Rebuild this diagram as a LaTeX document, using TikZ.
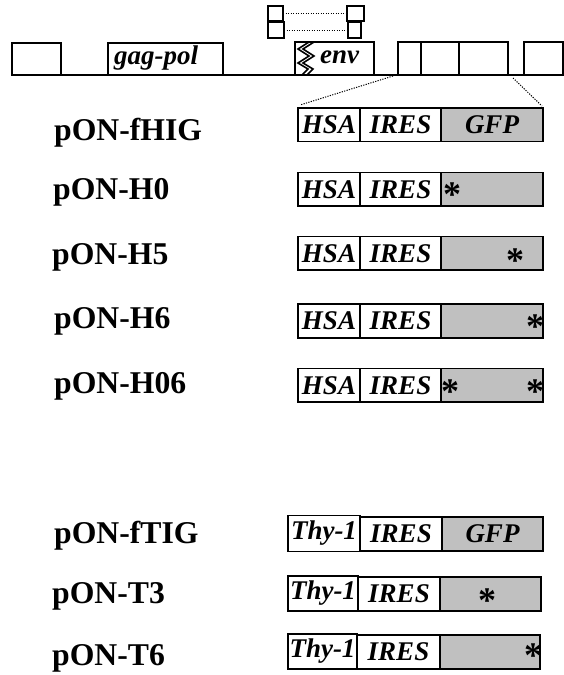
\documentclass[tikz,border=0pt]{standalone}
\usepackage{fontspec}
\setmainfont{Liberation Serif}
\definecolor{boxgray}{RGB}{192,192,192}
\newcommand\lblfont{\fontsize{31.7}{36}\selectfont\bfseries}
\newcommand\segfont{\fontsize{27}{30}\selectfont\bfseries\itshape}
\newcommand\starfont{\fontsize{36}{36}\selectfont\bfseries}
\begin{document}
\begin{tikzpicture}[x=1pt,y=-1pt,
  seg/.style={draw=black, line width=1.9pt, inner sep=0pt, outer sep=0pt, anchor=north west, font=\segfont},
  gseg/.style={seg, fill=boxgray},
  lbl/.style={anchor=base west, inner sep=0pt, font=\lblfont},
  starmark/.style={anchor=base, inner sep=0pt, font=\starfont},
  zoomline/.style={line width=1pt, dash pattern=on 1.2pt off 1.3pt},
  mainline/.style={line width=1.9pt}]
\useasboundingbox (0,0) rectangle (564,675);

% ---------- top construct ----------
\coordinate (ls) at (61,75);
\coordinate (le) at (524,75);
\draw[mainline] (ls) -- (le);
\node[seg, minimum width=49pt, minimum height=32pt] (b1) at (12,43) {};
\node[seg, minimum width=115pt, minimum height=32pt] (gp) at (108,43) {};
\node[anchor=west, inner sep=0pt, font=\segfont] (gpt) at (114,58) {gag-pol};
\node[seg, minimum width=79pt, minimum height=33pt] (env) at (295,42) {};
\node[anchor=west, inner sep=0pt, font=\segfont] (envt) at (320,57) {env};
\draw[line width=1.6pt, line join=miter] (309,42) -- (298,49) -- (309,56) -- (298,63) -- (308,69) -- (302,75);
\draw[line width=1.6pt, line join=miter] (314,42) -- (303,49) -- (314,56) -- (303,63) -- (313,69) -- (307,75);
\node[seg, minimum width=23pt, minimum height=33pt] (r1) at (398,42) {};
\node[seg, minimum width=38pt, minimum height=33pt] (r2) at (421,42) {};
\node[seg, minimum width=49pt, minimum height=33pt] (r3) at (459,42) {};
\node[seg, minimum width=39pt, minimum height=33pt] (r4) at (524,42) {};

% small boxes above env
\node[seg, line width=1.6pt, minimum width=15pt, minimum height=15pt] (ul) at (268,6) {};
\node[seg, line width=1.6pt, minimum width=16pt, minimum height=16pt] (ll) at (268,22) {};
\node[seg, line width=1.6pt, minimum width=17pt, minimum height=15pt] (ur) at (347,6) {};
\node[seg, line width=1.6pt, minimum width=13pt, minimum height=16pt] (lr) at (348,22) {};
\draw[zoomline] (ul.east) -- (ur.west);
\draw[zoomline] (ll.east) -- (lr.west);

% zoom lines
\coordinate (zl1) at (393,76);
\coordinate (zl2) at (300,105);
\coordinate (zr1) at (513,78);
\coordinate (zr2) at (542,106);
\draw[zoomline] (zl1) -- (zl2);
\draw[zoomline] (zr1) -- (zr2);

% ---------- HSA rows ----------
% row 1
\node[lbl] (l1) at (54,140) {pON-fHIG};
\node[seg, minimum width=62pt, minimum height=33.5pt] (a1) at (298,108) {HSA};
\node[seg, minimum width=81pt, minimum height=33.5pt] (b1r) at (360,108) {IRES};
\node[gseg, minimum width=102pt, minimum height=33.5pt] (c1) at (441,108) {GFP};
% row 2
\node[lbl] (l2) at (53,199) {pON-H0};
\node[seg, minimum width=62pt, minimum height=33.5pt] (a2) at (298,172.5) {HSA};
\node[seg, minimum width=81pt, minimum height=33.5pt] (b2) at (360,172.5) {IRES};
\node[gseg, minimum width=102pt, minimum height=33.5pt] (c2) at (441,172.5) {};
\node[starmark] (s2) at (452,206) {*};
% row 3
\node[lbl] (l3) at (52,264) {pON-H5};
\node[seg, minimum width=62pt, minimum height=33.5pt] (a3) at (298,236.5) {HSA};
\node[seg, minimum width=81pt, minimum height=33.5pt] (b3) at (360,236.5) {IRES};
\node[gseg, minimum width=102pt, minimum height=33.5pt] (c3) at (441,236.5) {};
\node[starmark] (s3) at (515,272) {*};
% row 4
\node[lbl] (l4) at (54,328) {pON-H6};
\node[seg, minimum width=62pt, minimum height=33.5pt] (a4) at (298,304.3) {HSA};
\node[seg, minimum width=81pt, minimum height=33.5pt] (b4) at (360,304.3) {IRES};
\node[gseg, minimum width=102pt, minimum height=33.5pt] (c4) at (441,304.3) {};
\node[starmark] (s4) at (535,338) {*};
% row 5
\node[lbl] (l5) at (54,393) {pON-H06};
\node[seg, minimum width=62pt, minimum height=33.5pt] (a5) at (298,368.5) {HSA};
\node[seg, minimum width=81pt, minimum height=33.5pt] (b5) at (360,368.5) {IRES};
\node[gseg, minimum width=102pt, minimum height=33.5pt] (c5) at (441,368.5) {};
\node[starmark] (s5a) at (450,403) {*};
\node[starmark] (s5b) at (535,403) {*};

% ---------- Thy-1 rows ----------
% row 6
\node[lbl] (l6) at (54,543) {pON-fTIG};
\node[seg, minimum width=72pt, minimum height=36pt] (a6) at (288,515.5) {Thy-1};
\node[seg, minimum width=82pt, minimum height=34pt] (b6) at (360,517) {IRES};
\node[gseg, minimum width=101pt, minimum height=34pt] (c6) at (442,517) {GFP};
% row 7
\node[lbl] (l7) at (52,603) {pON-T3};
\node[seg, minimum width=70pt, minimum height=35pt] (a7) at (288,576) {Thy-1};
\node[seg, minimum width=82pt, minimum height=34pt] (b7) at (358,577) {IRES};
\node[gseg, minimum width=101pt, minimum height=34pt] (c7) at (440,577) {};
\node[starmark] (s7) at (487,612) {*};
% row 8
\node[lbl] (l8) at (52,665) {pON-T6};
\node[seg, minimum width=69pt, minimum height=35pt] (a8) at (288,634) {Thy-1};
\node[seg, minimum width=83pt, minimum height=34pt] (b8) at (357,635) {IRES};
\node[gseg, minimum width=100pt, minimum height=34pt] (c8) at (440,635) {};
\node[starmark] (s8) at (533,667) {*};
\end{tikzpicture}
\end{document}
